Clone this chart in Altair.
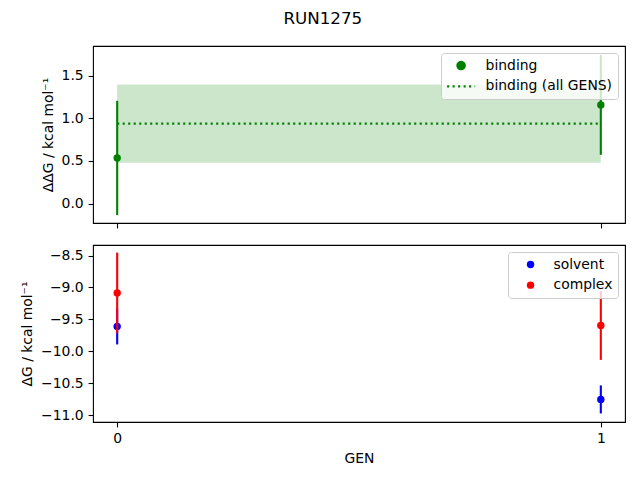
import altair as alt
import pandas as pd

# ---- data ----
gens = [0, 1]
binding = [0.535, 1.157]
binding_err = [0.670, 0.585]
binding_all = 0.937
binding_all_err = 0.458
solvent = [-9.613, -10.755]
solvent_err = [0.280, 0.220]
complex_ = [-9.085, -9.595]
complex_err = [0.632, 0.540]

FONT = "DejaVu Sans"
W, H = 532, 177

top_df = pd.DataFrame({
    "GEN": gens,
    "value": binding,
    "lo": [v - e for v, e in zip(binding, binding_err)],
    "hi": [v + e for v, e in zip(binding, binding_err)],
    "series": ["binding"] * len(gens),
})
all_df = pd.DataFrame({
    "x0": [gens[0]], "x1": [gens[-1]],
    "mean": [binding_all],
    "lo": [binding_all - binding_all_err],
    "hi": [binding_all + binding_all_err],
    "series": ["binding (all GENS)"],
})

bot_dom = ["solvent", "complex"]
bot_colors = ["blue", "red"]
rows = []
for name, vals, errs in [("solvent", solvent, solvent_err), ("complex", complex_, complex_err)]:
    for g, v, e in zip(gens, vals, errs):
        rows.append({"GEN": g, "value": v, "lo": v - e, "hi": v + e, "series": name})
bot_df = pd.DataFrame(rows)

xscale = alt.Scale(domain=[-0.05, 1.05], nice=False, zero=False)
top_y = alt.Scale(domain=[-0.228, 1.848], nice=False, zero=False)
bot_y = alt.Scale(domain=[-11.109, -8.334], nice=False, zero=False)

top_yaxis = alt.Axis(values=[0, 0.5, 1.0, 1.5], format=".1f", labelOverlap=False,
                     title="ΔΔG / kcal mol⁻¹")
bot_yaxis = alt.Axis(values=[-11.0, -10.5, -10.0, -9.5, -9.0, -8.5], format=".1f",
                     labelOverlap=False, title="ΔG / kcal mol⁻¹")
top_xaxis = alt.Axis(values=gens, labels=False, title=None)
bot_xaxis = alt.Axis(values=gens, format="d", title="GEN")

top_dom = ["binding", "binding (all GENS)"]
top_legend = alt.Legend(
    title=None, orient="top-right", offset=7,
    symbolStrokeColor="green", symbolFillColor="green", symbolStrokeWidth=2.1,
    symbolOffset=6, labelOffset=16, rowPadding=4.3,
)

band = alt.Chart(all_df).mark_rect(color="green", opacity=0.2).encode(
    x=alt.X("x0:Q", scale=xscale, axis=top_xaxis),
    x2="x1:Q",
    y=alt.Y("lo:Q", scale=top_y, axis=top_yaxis),
    y2="hi:Q",
)
mean_line = alt.Chart(all_df).mark_rule(strokeWidth=2.1).encode(
    x=alt.X("x0:Q", scale=xscale, axis=top_xaxis),
    x2="x1:Q",
    y=alt.Y("mean:Q", scale=top_y, axis=top_yaxis),
    color=alt.Color("series:N", scale=alt.Scale(domain=top_dom, range=["green", "green"]), legend=top_legend),
    strokeDash=alt.StrokeDash("series:N", scale=alt.Scale(domain=top_dom, range=[[1, 0], [2.1, 3.4]]), legend=top_legend),
)
top_bars = alt.Chart(top_df).mark_rule(color="green", strokeWidth=2.1).encode(
    x=alt.X("GEN:Q", scale=xscale, axis=top_xaxis),
    y=alt.Y("lo:Q", scale=top_y, axis=top_yaxis),
    y2="hi:Q",
)
top_pts = alt.Chart(top_df).mark_point(filled=True, opacity=1).encode(
    x=alt.X("GEN:Q", scale=xscale, axis=top_xaxis),
    y=alt.Y("value:Q", scale=top_y, axis=top_yaxis),
    color=alt.Color("series:N", scale=alt.Scale(domain=top_dom, range=["green", "green"]), legend=top_legend),
    shape=alt.Shape("series:N", scale=alt.Scale(domain=top_dom, range=["circle", "M-2,0H2"]), legend=top_legend),
    size=alt.Size("series:N", scale=alt.Scale(domain=top_dom, range=[55, 196]), legend=top_legend),
)

top = alt.layer(band, mean_line, top_bars, top_pts).properties(width=W, height=H)

bot_color = alt.Scale(domain=bot_dom, range=bot_colors)
bot_legend = alt.Legend(title=None, orient="top-right", offset=7,
                        symbolOffset=10, labelOffset=16, symbolSize=55, rowPadding=5.6)
bot_layers = []
for s, col in zip(bot_dom, bot_colors):
    bars = alt.Chart(bot_df).transform_filter(alt.datum.series == s).mark_rule(
        strokeWidth=2.1, color=col
    ).encode(
        x=alt.X("GEN:Q", scale=xscale, axis=bot_xaxis),
        y=alt.Y("lo:Q", scale=bot_y, axis=bot_yaxis),
        y2="hi:Q",
    )
    pts = alt.Chart(bot_df).transform_filter(alt.datum.series == s).mark_point(
        filled=True, opacity=1, size=55
    ).encode(
        x=alt.X("GEN:Q", scale=xscale, axis=bot_xaxis),
        y=alt.Y("value:Q", scale=bot_y, axis=bot_yaxis),
        color=alt.Color("series:N", scale=bot_color, legend=bot_legend),
    )
    bot_layers += [bars, pts]

bottom = alt.layer(*bot_layers).properties(width=W, height=H)

chart = alt.vconcat(top, bottom, spacing=15).resolve_scale(
    color="independent", shape="independent", size="independent", strokeDash="independent"
).resolve_legend(
    color="independent", shape="independent", size="independent", strokeDash="independent"
).properties(
    title=alt.Title("RUN1275", fontSize=16.7, fontWeight="normal", font=FONT,
                    anchor="middle", color="black", offset=18),
    padding={"left": 12, "top": 2, "right": 5, "bottom": 5},
).configure_view(
    stroke="black", strokeWidth=1.1
).configure_axis(
    grid=False, domain=False, tickColor="black", tickWidth=1.1, tickSize=4.9,
    labelFont=FONT, labelFontSize=13.9, labelColor="black", labelPadding=4.9,
    titleFont=FONT, titleFontSize=13.9, titleFontWeight="normal", titleColor="black",
    titlePadding=6,
).configure_legend(
    labelFont=FONT, labelFontSize=13.9, labelColor="black",
    fillColor="rgba(255,255,255,0.8)", strokeColor="#cccccc", cornerRadius=3,
    padding=5.6,
)

chart.save("out.html", embed_options={"renderer": "svg", "actions": False})
